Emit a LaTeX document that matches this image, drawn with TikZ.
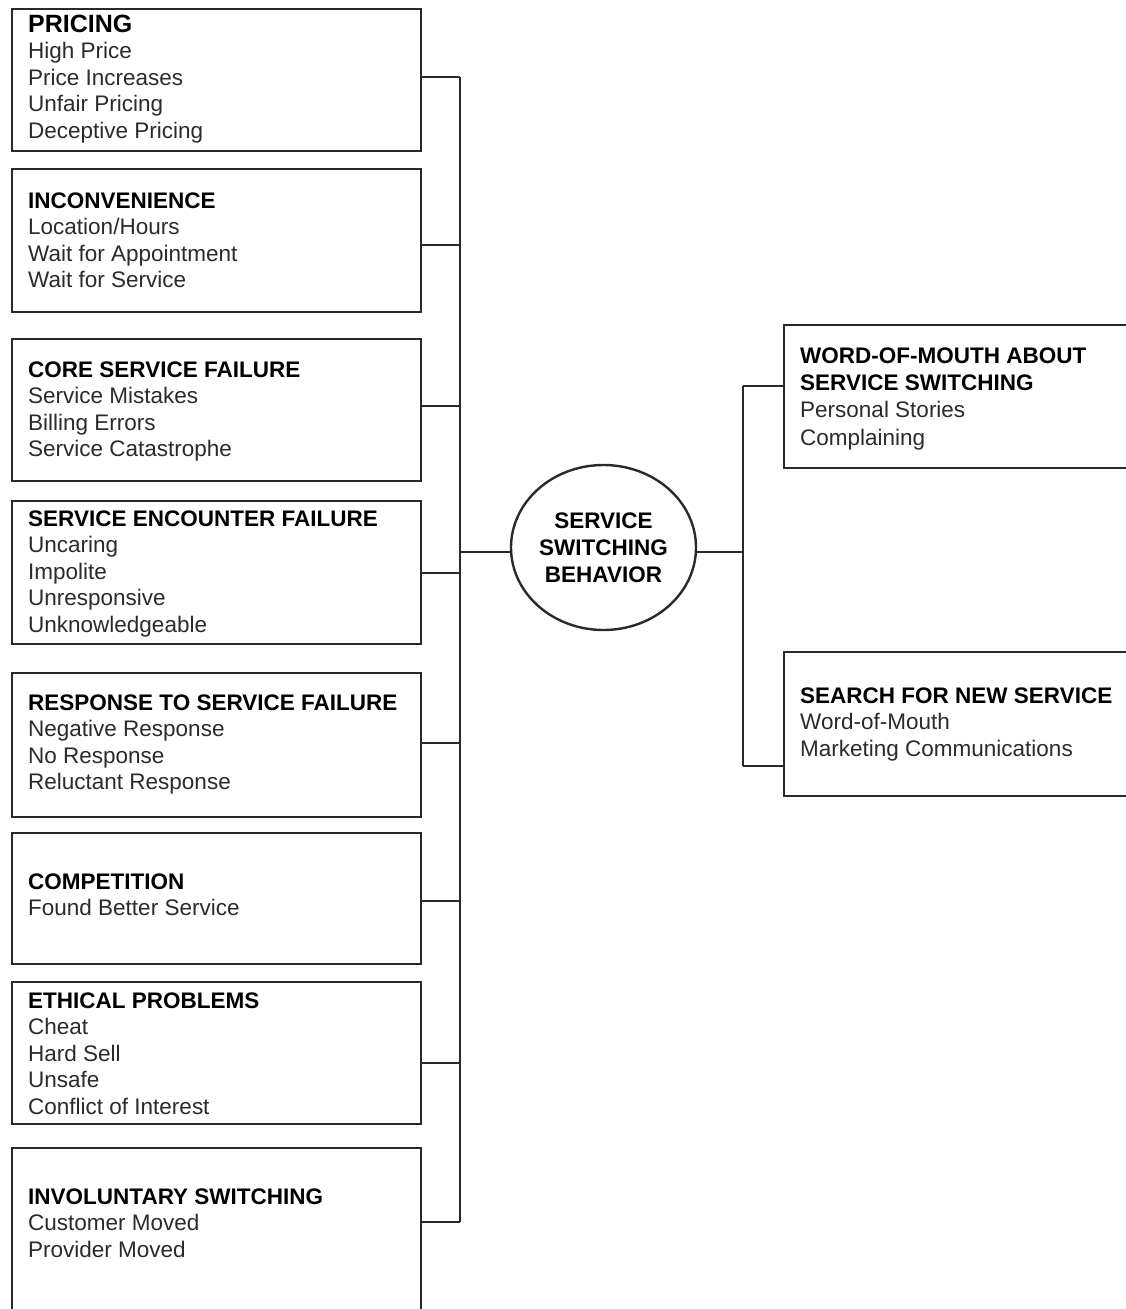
\documentclass[tikz,border=0pt]{standalone}
\usepackage{fontspec}
\setmainfont{Liberation Sans}
\usetikzlibrary{shapes.geometric}
\definecolor{linec}{HTML}{2A2A2A}
\definecolor{itemc}{HTML}{2B2B2B}
\tikzset{
  boxshape/.style={draw=linec, line width=2.4pt, fill=white},
  boxtext/.style={anchor=base west, align=left, inner sep=0pt, text=itemc,
    font=\fontsize{22.5}{26.5}\selectfont},
  conn/.style={draw=linec, line width=2.4pt},
  anchorpt/.style={inner sep=0pt, minimum size=0pt}
}
\newcommand{\hdr}[1]{\textbf{\color{black}#1}}
\begin{document}
\begin{tikzpicture}[x=1pt,y=-1pt]
\useasboundingbox (0,0) rectangle (1126,1309);
% left boxes
\draw[boxshape] (12,9) rectangle (421,151);
\draw[boxshape] (12,169) rectangle (421,312);
\draw[boxshape] (12,339) rectangle (421,481);
\draw[boxshape] (12,501) rectangle (421,644);
\draw[boxshape] (12,673) rectangle (421,817);
\draw[boxshape] (12,833) rectangle (421,964);
\draw[boxshape] (12,982) rectangle (421,1124);
\draw[boxshape] (12,1148) rectangle (421,1330);
% right boxes
\draw[boxshape] (784,325) rectangle (1140,468);
\draw[boxshape] (784,652) rectangle (1140,796);
% attachment points on the boxes' sides
\node[anchorpt] (b1) at (421,77) {};
\node[anchorpt] (b2) at (421,245) {};
\node[anchorpt] (b3) at (421,406) {};
\node[anchorpt] (b4) at (421,573) {};
\node[anchorpt] (b5) at (421,743) {};
\node[anchorpt] (b6) at (421,901) {};
\node[anchorpt] (b7) at (421,1063) {};
\node[anchorpt] (b8) at (421,1222) {};
\node[anchorpt] (r1) at (784,386) {};
\node[anchorpt] (r2) at (784,766) {};
% texts (anchored at the baseline of the last line)
\node[boxtext] (t1) at (28,138) {\hdr{\fontsize{25}{26.5}\selectfont PRICING}\\High Price\\Price Increases\\Unfair Pricing\\Deceptive Pricing};
\node[boxtext] (t2) at (28,287.5) {\hdr{INCONVENIENCE}\\Location/Hours\\Wait for Appointment\\Wait for Service};
\node[boxtext] (t3) at (28,456.5) {\hdr{CORE SERVICE FAILURE}\\Service Mistakes\\Billing Errors\\Service Catastrophe};
\node[boxtext] (t4) at (28,632) {\hdr{SERVICE ENCOUNTER FAILURE}\\Uncaring\\Impolite\\Unresponsive\\Unknowledgeable};
\node[boxtext] (t5) at (28,789.5) {\hdr{RESPONSE TO SERVICE FAILURE}\\Negative Response\\No Response\\Reluctant Response};
\node[boxtext] (t6) at (28,915.5) {\hdr{COMPETITION}\\Found Better Service};
\node[boxtext] (t7) at (28,1114) {\hdr{ETHICAL PROBLEMS}\\Cheat\\Hard Sell\\Unsafe\\Conflict of Interest};
\node[boxtext] (t8) at (28,1257) {\hdr{INVOLUNTARY SWITCHING}\\Customer Moved\\Provider Moved};
\node[boxtext, font=\fontsize{22.5}{27.3}\selectfont] (t9) at (800,445) {\hdr{WORD-OF-MOUTH ABOUT}\\\hdr{SERVICE SWITCHING}\\Personal Stories\\Complaining};
\node[boxtext] (t10) at (800,756) {\hdr{SEARCH FOR NEW SERVICE}\\Word-of-Mouth\\Marketing Communications};
% center ellipse
\node[ellipse, draw=linec, line width=2.4pt, minimum width=185pt, minimum height=165pt, inner sep=0pt,
  align=center, font=\fontsize{22.5}{27}\selectfont\bfseries] (e) at (603.5,547.5) {SERVICE\\SWITCHING\\BEHAVIOR};
% buses
\coordinate (lb1) at (460,77);
\coordinate (lb8) at (460,1222);
\coordinate (lm) at (460,552);
\coordinate (rm) at (743,552);
\coordinate (rb1) at (743,386);
\coordinate (rb2) at (743,766);
\draw[conn] (lb1) -- (lb8);
\draw[conn] (rb1) -- (rb2);
\foreach \b in {b1,b2,b3,b4,b5,b6,b7,b8}{
  \draw[conn] (\b) -- (\b -| lb1);
}
\draw[conn] (lm) -- (lm -| e.west);
\draw[conn] (e.east |- rm) -- (rm);
\draw[conn] (rb1) -- (r1);
\draw[conn] (rb2) -- (r2);
\end{tikzpicture}
\end{document}
